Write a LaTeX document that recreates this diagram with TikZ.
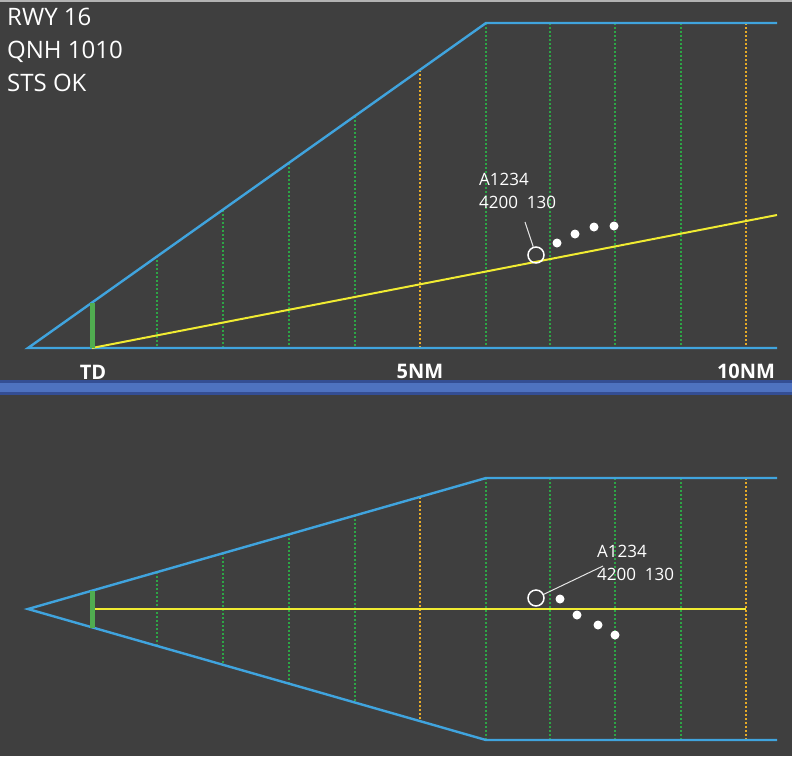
\documentclass[tikz,border=0pt]{standalone}
\usepackage{fontspec}
\setmainfont{Open Sans}
\definecolor{bg}{RGB}{63,63,63}
\definecolor{cblue}{RGB}{64,164,222}
\definecolor{cgreen}{RGB}{45,165,70}
\definecolor{corange}{RGB}{232,172,40}
\definecolor{cyellow}{RGB}{240,235,50}
\definecolor{cbar}{RGB}{80,172,80}
\definecolor{sepdark}{RGB}{52,78,148}
\definecolor{seplight}{RGB}{78,114,192}
\tikzset{
  edge/.style={cblue, line width=2.4pt},
  gdot/.style={cgreen, line width=2pt, dash pattern=on 2pt off 2pt},
  odot/.style={corange, line width=2pt, dash pattern=on 2pt off 2pt},
  glide/.style={cyellow, line width=2pt},
  tdbar/.style={cbar, line width=5pt},
  info/.style={white, font=\fontsize{24}{28}\selectfont, anchor=base west, inner sep=0pt},
  dist/.style={white, font=\bfseries\fontsize{20}{24}\selectfont, anchor=base, inner sep=0pt},
  tag/.style={white, font=\fontsize{17}{20}\selectfont, anchor=base west, inner sep=0pt},
  plane/.style={circle, draw=white, line width=1.5pt, minimum size=16pt, inner sep=0pt},
  trail/.style={circle, fill=white, minimum size=9pt, inner sep=0pt},
  leader/.style={white!80!gray, line width=1pt}
}
\begin{document}
\begin{tikzpicture}[x=1pt,y=-1pt]
\useasboundingbox (0,0) rectangle (792,756);
\fill[bg] (0,0) rectangle (792,756);
\fill[gray!60] (0,0) rectangle (792,2);

% ---------- top panel (profile) ----------
\foreach \xx/\st in {157/gdot,223/gdot,289/gdot,355/gdot,420/odot} {
  \pgfmathsetmacro{\yy}{348-(\xx-28)/458*325}
  \draw[\st] (\xx,\yy) -- (\xx,348);
}
\foreach \xx/\st in {486/gdot,550/gdot,615/gdot,681/gdot,746/odot}
  \draw[\st] (\xx,23) -- (\xx,348);

\draw[edge] (777,23) -- (486,23) -- (28,348) -- (777,348);
\draw[glide] (92,348) -- (777,215);
\draw[tdbar] (92,302.5) -- (92,348);

\node[info] (rwy) at (7,25) {RWY 16};
\node[info] (qnh) at (7,58) {QNH 1010};
\node[info] (sts) at (7,91) {STS OK};

\node[dist] (td) at (93,379) {TD};
\node[dist] (nm5) at (420,378) {5NM};
\node[dist] (nm10) at (746,378) {10NM};

\node[plane] (ac1) at (536,255) {};
\node[trail] (t1a) at (557,243) {};
\node[trail] (t1b) at (575,234) {};
\node[trail] (t1c) at (594,227) {};
\node[trail] (t1d) at (614,226) {};
\node[tag] (id1) at (479,185) {A1234};
\node[tag] (alt1) at (479,208) {4200~~130};
\coordinate (l1) at (525,222);
\draw[leader] (l1) -- (ac1);

% ---------- separator ----------
\fill[sepdark] (0,380) rectangle (792,395);
\fill[seplight] (0,383) rectangle (792,392);

% ---------- bottom panel (plan) ----------
\foreach \xx/\st in {157/gdot,223/gdot,289/gdot,355/gdot,420/odot} {
  \pgfmathsetmacro{\hh}{(\xx-28)/458*131}
  \draw[\st] (\xx,609-\hh) -- (\xx,609+\hh);
}
\foreach \xx/\st in {486/gdot,550/gdot,615/gdot,681/gdot,746/odot}
  \draw[\st] (\xx,478) -- (\xx,740);

\draw[edge] (777,478) -- (486,478) -- (28,609) -- (486,740) -- (777,740);
\draw[glide] (92,609) -- (746,609);
\draw[tdbar] (92,590.5) -- (92,627.5);

\node[plane] (ac2) at (536,598) {};
\node[trail] (t2a) at (560,599) {};
\node[trail] (t2b) at (577,615) {};
\node[trail] (t2c) at (598,625) {};
\node[trail] (t2d) at (615,635) {};
\node[tag] (id2) at (597,557) {A1234};
\node[tag] (alt2) at (597,580) {4200~~130};
\coordinate (l2) at (603,566);
\draw[leader] (l2) -- (ac2);
\end{tikzpicture}
\end{document}
